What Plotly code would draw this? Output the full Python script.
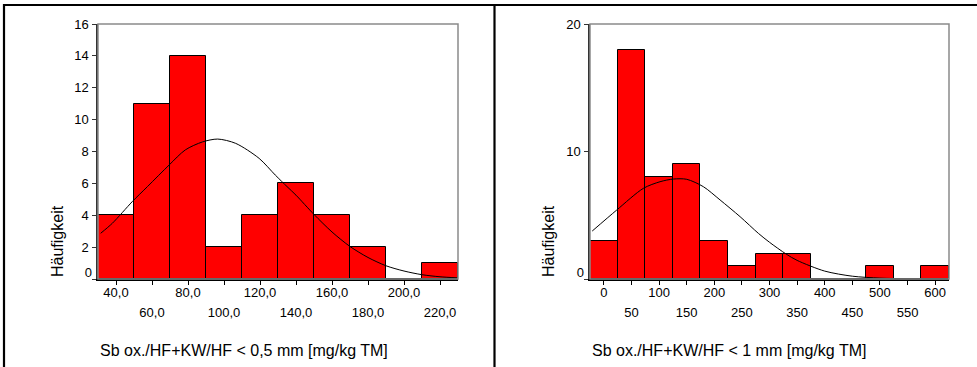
import plotly.graph_objects as go

# ---------------- data ----------------
# left panel: Sb ox./HF+KW/HF < 0,5 mm
left_centers = [40, 60, 80, 100, 120, 140, 160, 180, 200, 220]
left_counts = [4, 11, 14, 2, 4, 6, 4, 2, 0, 1]
left_bin_width = 20
left_curve_x = [31.5, 38, 49, 57.5, 69.5, 78.5, 88, 96.5, 106.5, 119.5, 128.5, 135,
                140, 150, 160, 170, 180, 190, 200, 210, 220, 230]
left_curve_y = [2.87, 3.5, 4.85, 5.8, 7.15, 8.1, 8.6, 8.78, 8.51, 7.57, 6.52, 5.8,
                5.26, 4.05, 2.95, 2.04, 1.35, 0.83, 0.5, 0.27, 0.14, 0.07]
left_ticks_row1 = [40, 80, 120, 160, 200]
left_ticks_row2 = [60, 100, 140, 180, 220]
left_yticks = [0, 2, 4, 6, 8, 10, 12, 14, 16]
left_title = "Sb ox./HF+KW/HF < 0,5 mm [mg/kg TM]"

# right panel: Sb ox./HF+KW/HF < 1 mm
right_centers = [0, 50, 100, 150, 200, 250, 300, 350, 400, 450, 500, 550, 600]
right_counts = [3, 18, 8, 9, 3, 1, 2, 2, 0, 0, 1, 0, 1]
right_bin_width = 50
right_curve_x = [-21, 23.4, 71.6, 101.8, 125.9, 150.2, 180.3, 210.5, 246.7, 279.9,
                 300, 330, 350, 400, 450, 500, 550, 600, 625]
right_curve_y = [3.76, 5.41, 7.11, 7.63, 7.84, 7.82, 7.24, 6.2, 4.89, 3.58,
                 2.88, 1.96, 1.46, 0.62, 0.22, 0.07, 0.02, 0.005, 0.0]
right_ticks_row1 = [0, 100, 200, 300, 400, 500, 600]
right_ticks_row2 = [50, 150, 250, 350, 450, 550]
right_yticks = [0, 10, 20]
right_title = "Sb ox./HF+KW/HF < 1 mm [mg/kg TM]"

y_title = "Häufigkeit"

# ---------------- layout helpers ----------------
W, H = 977, 367
FONT = "Arial, Liberation Sans, sans-serif"


def px_x(p):
    return p / W


def px_y(p):
    return 1 - p / H


def fmt_left(v):
    return f"{v:.1f}".replace(".", ",")


def fmt_right(v):
    return str(v)


fig = go.Figure()

panels = [
    dict(centers=left_centers, counts=left_counts, bw=left_bin_width,
         cx=left_curve_x, cy=left_curve_y, r1=left_ticks_row1, r2=left_ticks_row2,
         yt=left_yticks, ymax=16, fmt=fmt_left, title=left_title,
         dom=[98, 458], ax=("x", "y", "x3", "y3"), ytitle_x=57),
    dict(centers=right_centers, counts=right_counts, bw=right_bin_width,
         cx=right_curve_x, cy=right_curve_y, r1=right_ticks_row1, r2=right_ticks_row2,
         yt=right_yticks, ymax=20, fmt=fmt_right, title=right_title,
         dom=[590, 949], ax=("x2", "y2", "x4", "y4"), ytitle_x=548),
]

ydom = [px_y(279), px_y(24)]

for p in panels:
    xa, ya, xo, yo = p["ax"]
    fig.add_trace(go.Bar(
        x=p["centers"], y=p["counts"], width=[p["bw"]] * len(p["centers"]),
        marker=dict(color="#ff0000", line=dict(color="#000000", width=1)),
        xaxis=xa, yaxis=ya, showlegend=False, hoverinfo="skip"))
    fig.add_trace(go.Scatter(
        x=p["cx"], y=p["cy"], mode="lines",
        line=dict(color="#000000", width=1, shape="spline", smoothing=0.8),
        xaxis=xa, yaxis=ya, showlegend=False, hoverinfo="skip"))
    # empty trace so that the overlay axes (second label row, shifted zero) are drawn
    fig.add_trace(go.Scatter(x=[], y=[], xaxis=xo, yaxis=yo, showlegend=False))

    lo = p["centers"][0] - p["bw"] / 2
    hi = p["centers"][-1] + p["bw"] / 2
    all_ticks = sorted(p["r1"] + p["r2"])
    xkey = "xaxis" if xa == "x" else "xaxis" + xa[1:]
    ykey = "yaxis" if ya == "y" else "yaxis" + ya[1:]
    xokey = "xaxis" + xo[1:]
    yokey = "yaxis" + yo[1:]
    dom = [px_x(p["dom"][0]), px_x(p["dom"][1])]

    fig.update_layout(**{
        xkey: dict(domain=dom, range=[lo, hi], anchor=ya,
                   tickmode="array", tickvals=all_ticks,
                   ticktext=[p["fmt"](v) if v in p["r1"] else "" for v in all_ticks],
                   ticks="outside", ticklen=4, tickwidth=1, tickcolor="#000000",
                   showline=True, linecolor="#000000", linewidth=1.5,
                   showgrid=False, zeroline=False, automargin=False,
                   ticklabelstandoff=-3,
                   tickfont=dict(family=FONT, size=13, color="#000000")),
        ykey: dict(domain=ydom, range=[0, p["ymax"]], anchor=xa,
                   tickmode="array", tickvals=p["yt"],
                   ticktext=["" if v == 0 else str(v) for v in p["yt"]],
                   ticks="outside", ticklen=4, tickwidth=1, tickcolor="#333333",
                   showline=True, linecolor="#333333", linewidth=1.5,
                   showgrid=False, zeroline=False, automargin=False,
                   ticklabelstandoff=1,
                   tickfont=dict(family=FONT, size=13, color="#000000")),
        xokey: dict(overlaying=xa, range=[lo, hi], anchor=ya,
                    tickmode="array", tickvals=p["r2"],
                    ticktext=[p["fmt"](v) for v in p["r2"]],
                    ticks="", showline=False, showgrid=False, zeroline=False,
                    automargin=False, ticklabelstandoff=24,
                    tickfont=dict(family=FONT, size=13, color="#000000")),
        yokey: dict(overlaying=ya, range=[0, p["ymax"]], anchor=xa,
                    tickmode="array", tickvals=[0], ticktext=["0"],
                    ticks="", showline=False, showgrid=False, zeroline=False,
                    automargin=False, ticklabelstandoff=5, ticklabelshift=-7,
                    tickfont=dict(family=FONT, size=13, color="#000000")),
    })

    # gray plot frame (top / right)
    fig.add_shape(type="rect", xref=xa + " domain", yref=ya + " domain",
                  x0=0, x1=1, y0=0, y1=1, line=dict(color="#8a8a8a", width=1.5),
                  layer="above")
    # axis titles
    fig.add_annotation(text=p["title"], xref="paper", yref="paper",
                       x=px_x(p["dom"][0]), y=px_y(350), xanchor="left", yanchor="middle",
                       showarrow=False, font=dict(family=FONT, size=16, color="#000000"))
    fig.add_annotation(text=y_title, xref="paper", yref="paper",
                       x=px_x(p["ytitle_x"]), y=px_y(279), xanchor="center", yanchor="bottom",
                       textangle=-90, showarrow=False,
                       font=dict(family=FONT, size=16, color="#000000"))

# outer black frame lines
frame_lines = [
    (3, 5, W, 5),       # top
    (4, 4, 4, H),       # left
    (494.5, 4, 494.5, H),  # divider
]
for x0, y0, x1, y1 in frame_lines:
    fig.add_shape(type="line", xref="paper", yref="paper",
                  x0=px_x(x0), y0=px_y(y0), x1=px_x(x1), y1=px_y(y1),
                  line=dict(color="#000000", width=2.2), layer="above")

fig.update_layout(
    width=W, height=H, margin=dict(l=0, r=0, t=0, b=0),
    paper_bgcolor="#ffffff", plot_bgcolor="#ffffff",
    bargap=0, barmode="overlay", showlegend=False,
    font=dict(family=FONT, color="#000000"),
)

fig.write_html("out.html")
